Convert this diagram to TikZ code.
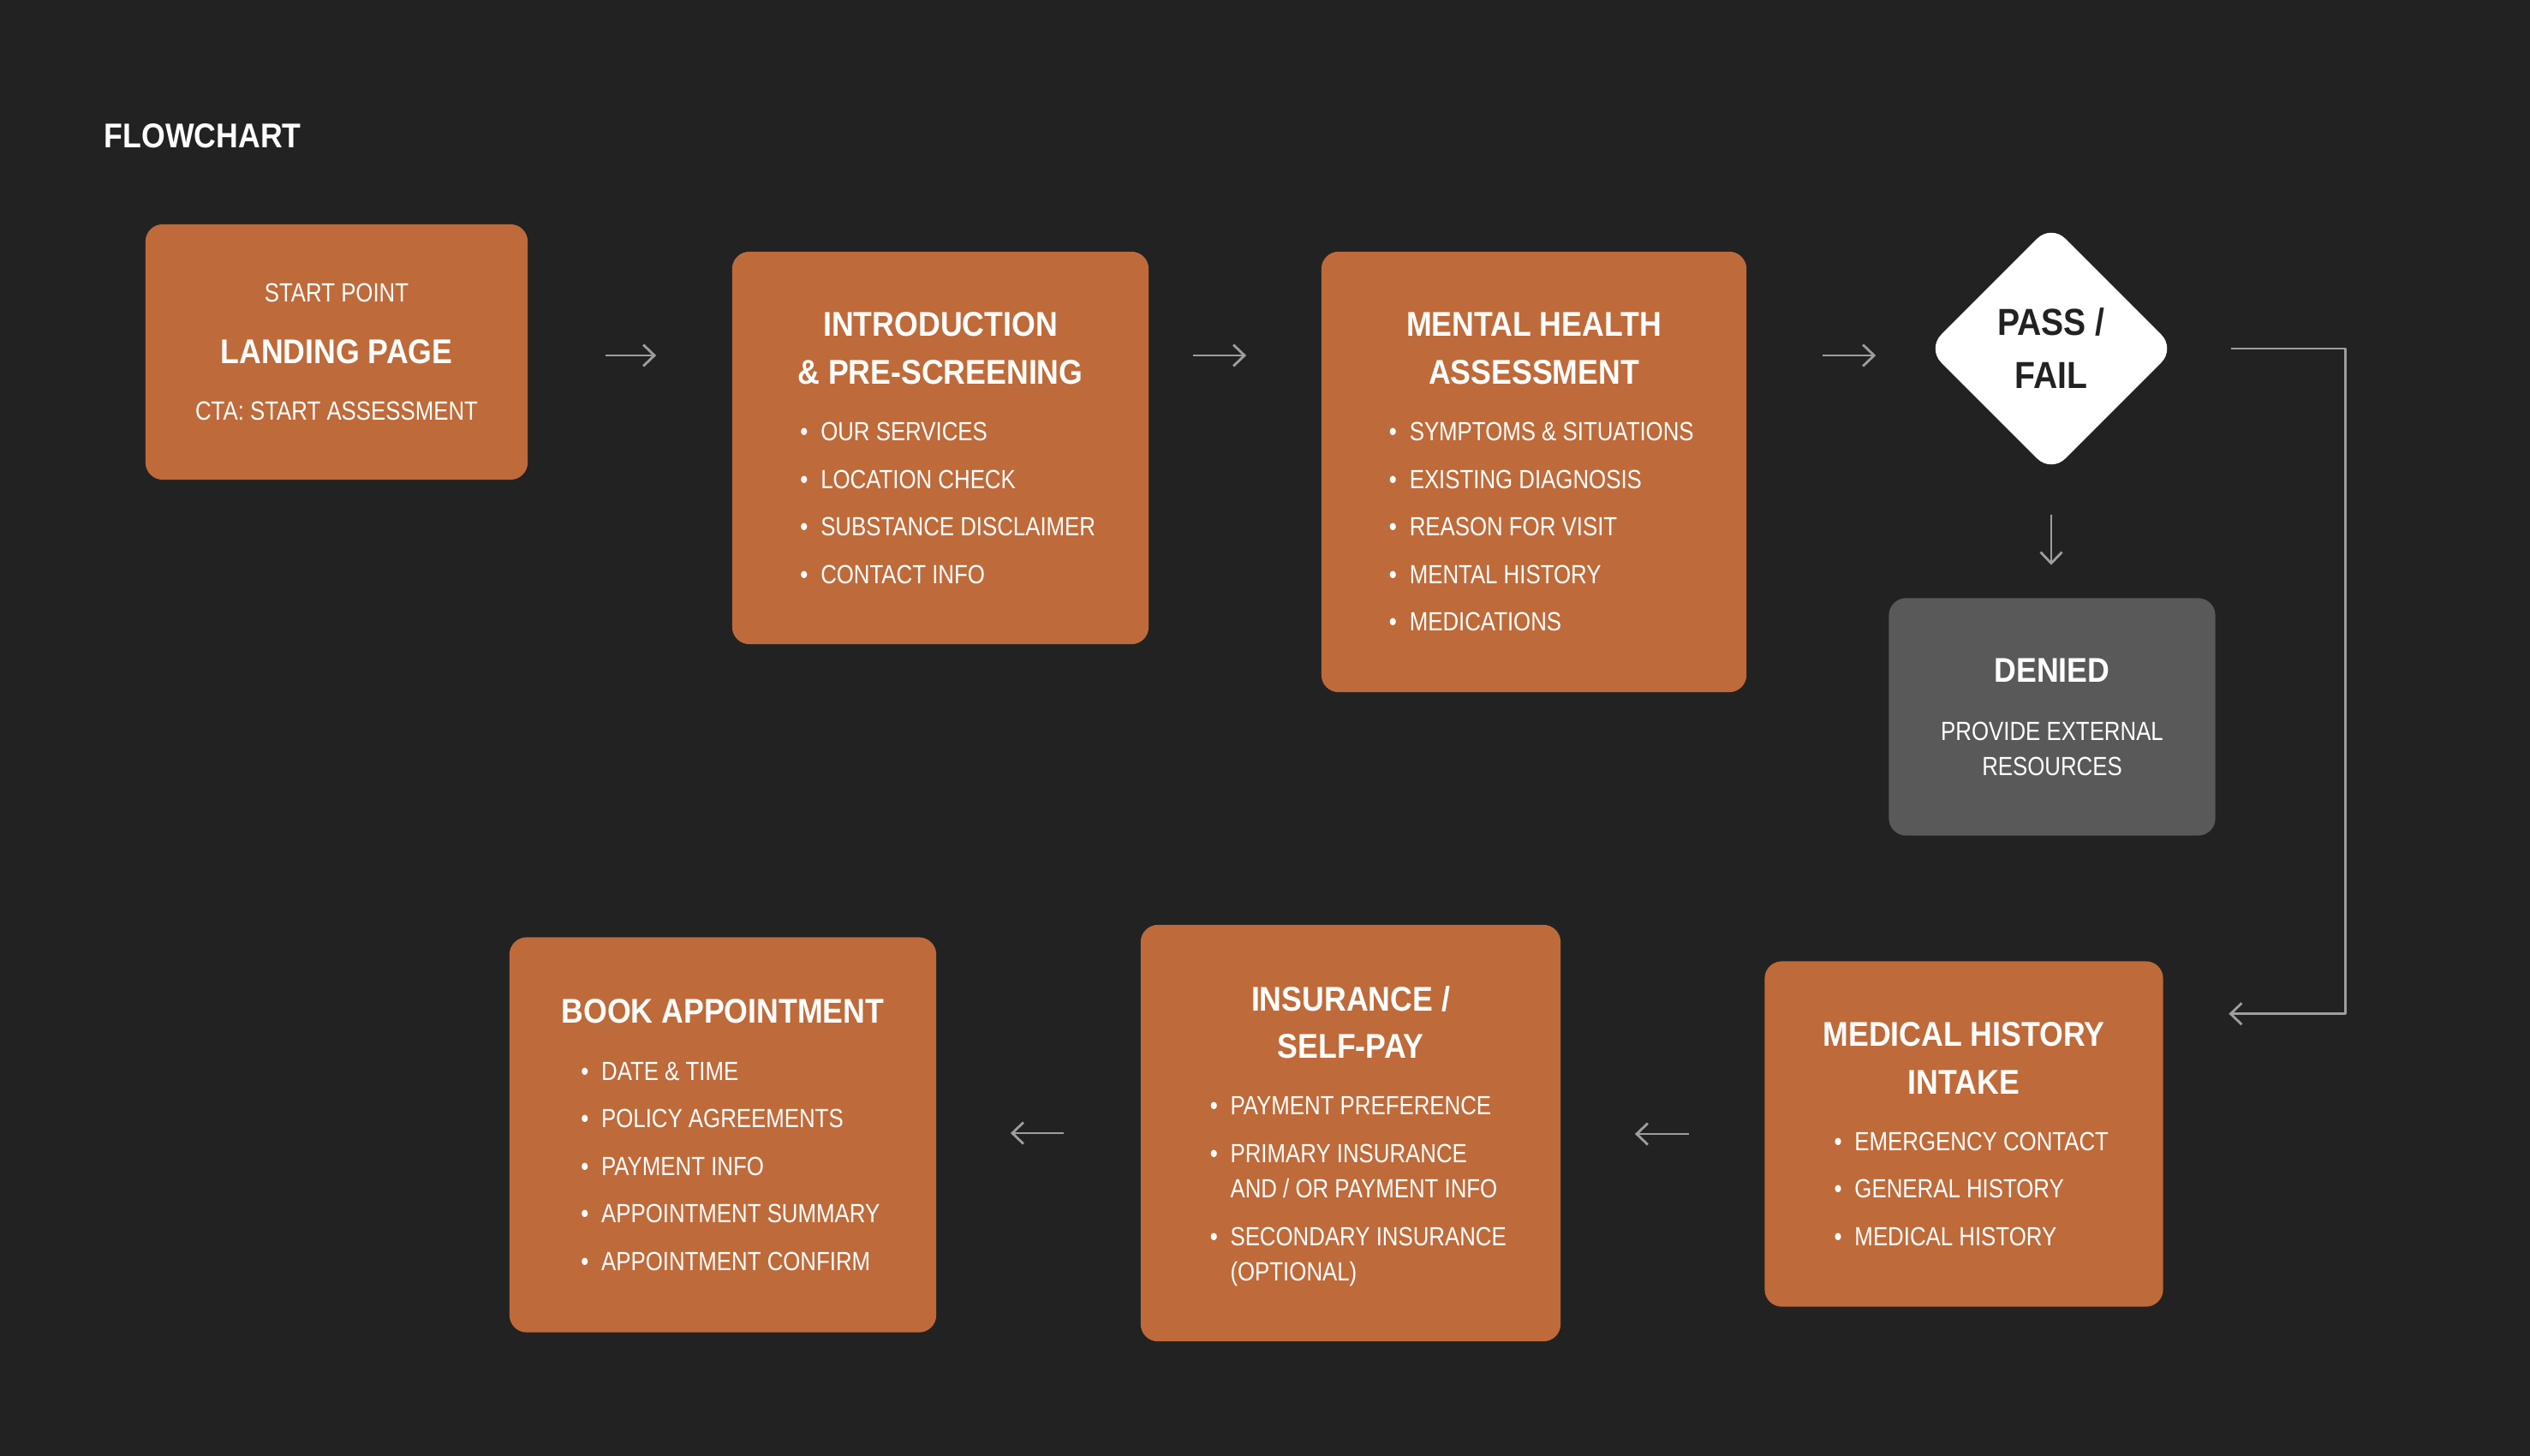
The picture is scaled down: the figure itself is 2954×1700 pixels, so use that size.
\documentclass[tikz,border=0pt]{standalone}
\usepackage{fontspec}
\setmainfont{Liberation Sans}[FakeStretch=0.84, BoldFeatures={FakeStretch=0.89}]
\usetikzlibrary{arrows.meta,shapes.geometric}

\definecolor{bgdark}{HTML}{222222}
\definecolor{rust}{HTML}{BF6A3A}
\definecolor{denygray}{HTML}{595959}
\definecolor{linkgray}{HTML}{9E9E9E}

\newcommand{\flowhead}{\fontsize{11.4}{15.5}\selectfont\bfseries}
\newcommand{\flowbody}{\fontsize{8.74}{15.8}\selectfont}
\newenvironment{steplist}{\begin{tabular}[t]{@{\hspace{5pt}}l@{\hspace{4.2pt}}l@{}}}{\\[-4.8pt]\end{tabular}}

\tikzset{
  stepbox/.style={fill=rust, text=white, rounded corners=0.2cm, align=center, inner sep=0pt, font=\flowbody},
  denybox/.style={stepbox, fill=denygray, font=\fontsize{8.74}{11.7}\selectfont},
  gatebox/.style={diamond, fill=white, text=bgdark, rounded corners=0.23cm, inner sep=0pt,
    minimum width=2.9cm, minimum height=2.9cm, align=center, font=\fontsize{12.5}{17.6}\selectfont\bfseries},
  flow/.style={draw=linkgray, line width=0.8pt, line join=round, -{Straight Barb[length=1.3mm, width=2.5mm]}},
}

\begin{document}
\begin{tikzpicture}[x=0.01cm, y=-0.01cm]
    \fill[bgdark] (0,0) rectangle (2954,1700);
    \node[anchor=base west, inner sep=0pt, text=white, font=\flowhead] (heading) at (121,173) {FLOWCHART};

    % top row
    \node[stepbox, minimum width=4.46cm, minimum height=2.98cm] (land) at (393,411)
        {START POINT\\[4.7pt]{\flowhead LANDING PAGE}\\[3pt]CTA: START ASSESSMENT};
    \node[stepbox, minimum width=4.86cm, minimum height=4.58cm] (intro) at (1098,523)
        {{\flowhead INTRODUCTION}\\{\flowhead \& PRE-SCREENING}\\[3pt]
         \begin{steplist}
           \textbullet & OUR SERVICES\\
           \textbullet & LOCATION CHECK\\
           \textbullet & SUBSTANCE DISCLAIMER\\
           \textbullet & CONTACT INFO
         \end{steplist}};
    \node[stepbox, minimum width=4.96cm, minimum height=5.14cm] (mental) at (1791,551)
        {{\flowhead MENTAL HEALTH}\\{\flowhead ASSESSMENT}\\[3pt]
         \begin{steplist}
           \textbullet & SYMPTOMS \& SITUATIONS\\
           \textbullet & EXISTING DIAGNOSIS\\
           \textbullet & REASON FOR VISIT\\
           \textbullet & MENTAL HISTORY\\
           \textbullet & MEDICATIONS
         \end{steplist}};
    \node[gatebox] (gate) at (2395,407) {PASS /\\FAIL};
    \node[denybox, minimum width=3.81cm, minimum height=2.77cm] (denied) at (2396,837)
        {{\flowhead DENIED}\\[7.6pt]PROVIDE EXTERNAL\\RESOURCES};

    % bottom row
    \node[stepbox, minimum width=4.65cm, minimum height=4.03cm] (medical) at (2293,1324)
        {{\flowhead MEDICAL HISTORY}\\{\flowhead INTAKE}\\[3pt]
         \begin{steplist}
           \textbullet & EMERGENCY CONTACT\\
           \textbullet & GENERAL HISTORY\\
           \textbullet & MEDICAL HISTORY
         \end{steplist}};
    \node[stepbox, minimum width=4.90cm, minimum height=4.86cm] (insurance) at (1577,1323)
        {{\flowhead INSURANCE /}\\{\flowhead SELF-PAY}\\[3pt]
         \begin{steplist}
           \textbullet & PAYMENT PREFERENCE\\
           \textbullet & PRIMARY INSURANCE\\[-4.1pt]
                       & AND / OR PAYMENT INFO\\
           \textbullet & SECONDARY INSURANCE\\[-4.1pt]
                       & (OPTIONAL)
         \end{steplist}};
    \node[stepbox, minimum width=4.98cm, minimum height=4.61cm] (book) at (844,1325)
        {{\flowhead BOOK APPOINTMENT}\\[3pt]
         \begin{steplist}
           \textbullet & DATE \& TIME\\
           \textbullet & POLICY AGREEMENTS\\
           \textbullet & PAYMENT INFO\\
           \textbullet & APPOINTMENT SUMMARY\\
           \textbullet & APPOINTMENT CONFIRM
         \end{steplist}};

    % arrows
    \draw[flow, shorten <=0.9cm, shorten >=0.88cm] ([yshift=-0.04cm]land.east) -- ([yshift=-0.04cm]land.east -| intro.west);
    \draw[flow, shorten <=0.51cm, shorten >=0.87cm] ([yshift=-0.04cm]intro.east |- land.east) -- ([yshift=-0.04cm]mental.west |- land.east);
    \draw[flow, shorten <=0.88cm, shorten >=0.59cm] ([yshift=-0.04cm]mental.east |- land.east) -- ([yshift=-0.04cm]gate.west |- land.east);
    \draw[flow, shorten <=0.48cm, shorten >=0.38cm] (gate.south) -- (gate.south |- denied.north);
    \coordinate (loopback) at ([xshift=2.12cm]gate.east -| medical.east);
    \draw[flow, shorten <=0.64cm, shorten >=0.76cm] (gate.east) -- (loopback) |- ([yshift=-0.62cm]medical.north east);
    \draw[flow, shorten <=0.88cm, shorten >=0.86cm] (medical.west) -- (medical.west -| insurance.east);
    \draw[flow, shorten <=0.89cm, shorten >=0.86cm] (insurance.west) -- (insurance.west -| book.east);
\end{tikzpicture}
\end{document}
